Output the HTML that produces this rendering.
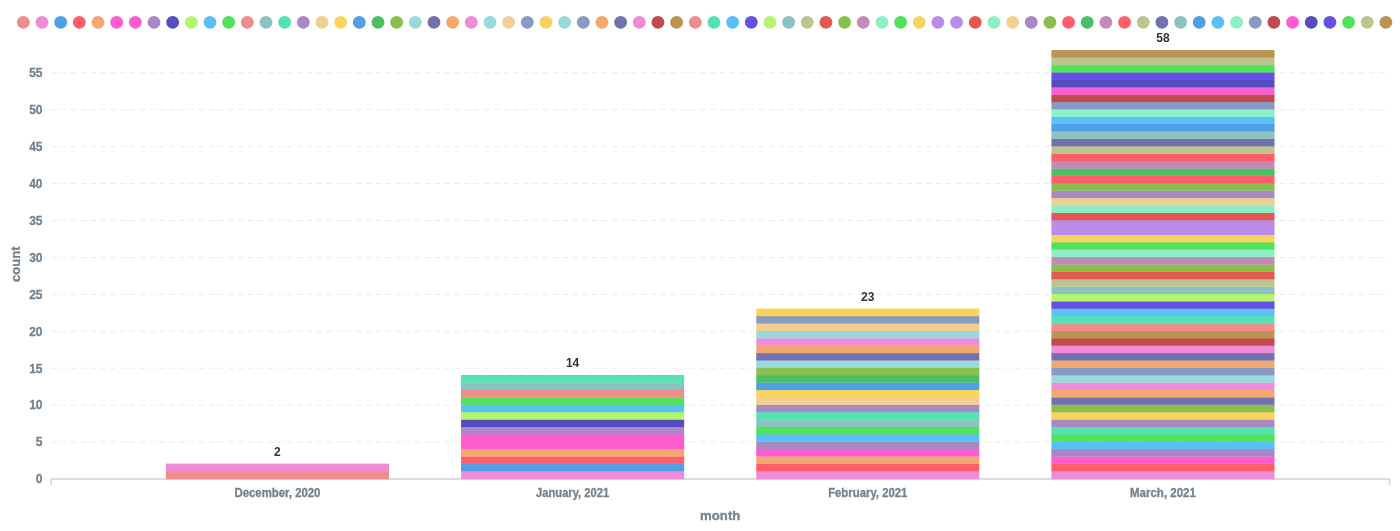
<!DOCTYPE html><html><head><meta charset="utf-8"><style>html,body{margin:0;padding:0;background:#fff;overflow:hidden}svg{display:block;will-change:transform}text{font-family:"Liberation Sans",sans-serif;font-weight:bold}.ax{stroke:#74838F;stroke-width:0.3}</style></head><body>
<svg width="1400" height="531" viewBox="0 0 1400 531">
<circle cx="23.35" cy="22.3" r="6.4" fill="#EF8C8C"/>
<circle cx="42.02" cy="22.3" r="6.4" fill="#EF8CDA"/>
<circle cx="60.68" cy="22.3" r="6.4" fill="#509EE3"/>
<circle cx="79.34" cy="22.3" r="6.4" fill="#FF5F6B"/>
<circle cx="98.01" cy="22.3" r="6.4" fill="#F2A86F"/>
<circle cx="116.67" cy="22.3" r="6.4" fill="#FF5CD0"/>
<circle cx="135.34" cy="22.3" r="6.4" fill="#FF5CD0"/>
<circle cx="154.00" cy="22.3" r="6.4" fill="#A989C5"/>
<circle cx="172.67" cy="22.3" r="6.4" fill="#554DBF"/>
<circle cx="191.33" cy="22.3" r="6.4" fill="#B5F56B"/>
<circle cx="210.00" cy="22.3" r="6.4" fill="#5BC0F7"/>
<circle cx="228.66" cy="22.3" r="6.4" fill="#50E35A"/>
<circle cx="247.33" cy="22.3" r="6.4" fill="#EF8C8C"/>
<circle cx="266.00" cy="22.3" r="6.4" fill="#8CC2C2"/>
<circle cx="284.66" cy="22.3" r="6.4" fill="#52E3B0"/>
<circle cx="303.32" cy="22.3" r="6.4" fill="#A989C5"/>
<circle cx="321.99" cy="22.3" r="6.4" fill="#F0CF93"/>
<circle cx="340.66" cy="22.3" r="6.4" fill="#F9D45C"/>
<circle cx="359.32" cy="22.3" r="6.4" fill="#509EE3"/>
<circle cx="377.99" cy="22.3" r="6.4" fill="#4BBF66"/>
<circle cx="396.65" cy="22.3" r="6.4" fill="#88BF4D"/>
<circle cx="415.31" cy="22.3" r="6.4" fill="#98D9D9"/>
<circle cx="433.98" cy="22.3" r="6.4" fill="#7172AD"/>
<circle cx="452.64" cy="22.3" r="6.4" fill="#F2A86F"/>
<circle cx="471.31" cy="22.3" r="6.4" fill="#EF8CDA"/>
<circle cx="489.98" cy="22.3" r="6.4" fill="#98D9D9"/>
<circle cx="508.64" cy="22.3" r="6.4" fill="#F0CF93"/>
<circle cx="527.30" cy="22.3" r="6.4" fill="#889AC2"/>
<circle cx="545.97" cy="22.3" r="6.4" fill="#F9D45C"/>
<circle cx="564.63" cy="22.3" r="6.4" fill="#98D9D9"/>
<circle cx="583.30" cy="22.3" r="6.4" fill="#889AC2"/>
<circle cx="601.97" cy="22.3" r="6.4" fill="#F2A86F"/>
<circle cx="620.63" cy="22.3" r="6.4" fill="#7172AD"/>
<circle cx="639.29" cy="22.3" r="6.4" fill="#EF8CDA"/>
<circle cx="657.96" cy="22.3" r="6.4" fill="#BF4B4E"/>
<circle cx="676.62" cy="22.3" r="6.4" fill="#BC9452"/>
<circle cx="695.29" cy="22.3" r="6.4" fill="#EF8C8C"/>
<circle cx="713.96" cy="22.3" r="6.4" fill="#52E3B0"/>
<circle cx="732.62" cy="22.3" r="6.4" fill="#5BC0F7"/>
<circle cx="751.28" cy="22.3" r="6.4" fill="#6450E3"/>
<circle cx="769.95" cy="22.3" r="6.4" fill="#B5F56B"/>
<circle cx="788.62" cy="22.3" r="6.4" fill="#8CC2C2"/>
<circle cx="807.28" cy="22.3" r="6.4" fill="#BEC58C"/>
<circle cx="825.94" cy="22.3" r="6.4" fill="#E35850"/>
<circle cx="844.61" cy="22.3" r="6.4" fill="#88BF4D"/>
<circle cx="863.27" cy="22.3" r="6.4" fill="#C589B9"/>
<circle cx="881.94" cy="22.3" r="6.4" fill="#8CEFC6"/>
<circle cx="900.61" cy="22.3" r="6.4" fill="#50E35A"/>
<circle cx="919.27" cy="22.3" r="6.4" fill="#F9D45C"/>
<circle cx="937.93" cy="22.3" r="6.4" fill="#BA8CE8"/>
<circle cx="956.60" cy="22.3" r="6.4" fill="#BA8CE8"/>
<circle cx="975.26" cy="22.3" r="6.4" fill="#E35850"/>
<circle cx="993.93" cy="22.3" r="6.4" fill="#8CEFC6"/>
<circle cx="1012.60" cy="22.3" r="6.4" fill="#F0CF93"/>
<circle cx="1031.26" cy="22.3" r="6.4" fill="#A989C5"/>
<circle cx="1049.92" cy="22.3" r="6.4" fill="#88BF4D"/>
<circle cx="1068.59" cy="22.3" r="6.4" fill="#FF5F6B"/>
<circle cx="1087.25" cy="22.3" r="6.4" fill="#4BBF66"/>
<circle cx="1105.92" cy="22.3" r="6.4" fill="#C589B9"/>
<circle cx="1124.58" cy="22.3" r="6.4" fill="#FF5F6B"/>
<circle cx="1143.25" cy="22.3" r="6.4" fill="#BEC58C"/>
<circle cx="1161.91" cy="22.3" r="6.4" fill="#7172AD"/>
<circle cx="1180.58" cy="22.3" r="6.4" fill="#8CC2C2"/>
<circle cx="1199.24" cy="22.3" r="6.4" fill="#509EE3"/>
<circle cx="1217.91" cy="22.3" r="6.4" fill="#5BC0F7"/>
<circle cx="1236.57" cy="22.3" r="6.4" fill="#8CEFC6"/>
<circle cx="1255.24" cy="22.3" r="6.4" fill="#889AC2"/>
<circle cx="1273.90" cy="22.3" r="6.4" fill="#BF4B4E"/>
<circle cx="1292.57" cy="22.3" r="6.4" fill="#FF5CD0"/>
<circle cx="1311.23" cy="22.3" r="6.4" fill="#554DBF"/>
<circle cx="1329.90" cy="22.3" r="6.4" fill="#6450E3"/>
<circle cx="1348.56" cy="22.3" r="6.4" fill="#50E35A"/>
<circle cx="1367.23" cy="22.3" r="6.4" fill="#BEC58C"/>
<circle cx="1385.89" cy="22.3" r="6.4" fill="#BC9452"/>
<line x1="51.4" x2="1389.5" y1="442.07" y2="442.07" stroke="#EAECEE" stroke-width="1" stroke-dasharray="5.3 4.53"/>
<line x1="51.4" x2="1389.5" y1="405.15" y2="405.15" stroke="#EAECEE" stroke-width="1" stroke-dasharray="5.3 4.53"/>
<line x1="51.4" x2="1389.5" y1="368.23" y2="368.23" stroke="#EAECEE" stroke-width="1" stroke-dasharray="5.3 4.53"/>
<line x1="51.4" x2="1389.5" y1="331.30" y2="331.30" stroke="#EAECEE" stroke-width="1" stroke-dasharray="5.3 4.53"/>
<line x1="51.4" x2="1389.5" y1="294.38" y2="294.38" stroke="#EAECEE" stroke-width="1" stroke-dasharray="5.3 4.53"/>
<line x1="51.4" x2="1389.5" y1="257.45" y2="257.45" stroke="#EAECEE" stroke-width="1" stroke-dasharray="5.3 4.53"/>
<line x1="51.4" x2="1389.5" y1="220.53" y2="220.53" stroke="#EAECEE" stroke-width="1" stroke-dasharray="5.3 4.53"/>
<line x1="51.4" x2="1389.5" y1="183.60" y2="183.60" stroke="#EAECEE" stroke-width="1" stroke-dasharray="5.3 4.53"/>
<line x1="51.4" x2="1389.5" y1="146.68" y2="146.68" stroke="#EAECEE" stroke-width="1" stroke-dasharray="5.3 4.53"/>
<line x1="51.4" x2="1389.5" y1="109.75" y2="109.75" stroke="#EAECEE" stroke-width="1" stroke-dasharray="5.3 4.53"/>
<line x1="51.4" x2="1389.5" y1="72.82" y2="72.82" stroke="#EAECEE" stroke-width="1" stroke-dasharray="5.3 4.53"/>
<text x="42.5" y="483.30" class="ax" text-anchor="end" font-size="12" fill="#74838F">0</text>
<text x="42.5" y="446.38" class="ax" text-anchor="end" font-size="12" fill="#74838F">5</text>
<text x="42.5" y="409.45" class="ax" text-anchor="end" font-size="12" fill="#74838F">10</text>
<text x="42.5" y="372.53" class="ax" text-anchor="end" font-size="12" fill="#74838F">15</text>
<text x="42.5" y="335.60" class="ax" text-anchor="end" font-size="12" fill="#74838F">20</text>
<text x="42.5" y="298.68" class="ax" text-anchor="end" font-size="12" fill="#74838F">25</text>
<text x="42.5" y="261.75" class="ax" text-anchor="end" font-size="12" fill="#74838F">30</text>
<text x="42.5" y="224.83" class="ax" text-anchor="end" font-size="12" fill="#74838F">35</text>
<text x="42.5" y="187.90" class="ax" text-anchor="end" font-size="12" fill="#74838F">40</text>
<text x="42.5" y="150.98" class="ax" text-anchor="end" font-size="12" fill="#74838F">45</text>
<text x="42.5" y="114.05" class="ax" text-anchor="end" font-size="12" fill="#74838F">50</text>
<text x="42.5" y="77.12" class="ax" text-anchor="end" font-size="12" fill="#74838F">55</text>
<path d="M51.0 485 V479 H1389.5 V485" fill="none" stroke="#CDD3D8" stroke-width="1.5"/>
<rect x="165.90" y="471.01" width="223.10" height="8.29" fill="#EF8C8C"/>
<rect x="165.90" y="463.63" width="223.10" height="7.68" fill="#EF8CDA"/>
<rect x="461.07" y="471.01" width="223.10" height="8.29" fill="#EF8CDA"/>
<rect x="461.07" y="463.63" width="223.10" height="7.68" fill="#509EE3"/>
<rect x="461.07" y="456.25" width="223.10" height="7.68" fill="#FF5F6B"/>
<rect x="461.07" y="448.86" width="223.10" height="7.69" fill="#F2A86F"/>
<rect x="461.07" y="434.09" width="223.10" height="15.07" fill="#FF5CD0"/>
<rect x="461.07" y="426.70" width="223.10" height="7.68" fill="#A989C5"/>
<rect x="461.07" y="419.32" width="223.10" height="7.68" fill="#554DBF"/>
<rect x="461.07" y="411.93" width="223.10" height="7.69" fill="#B5F56B"/>
<rect x="461.07" y="404.55" width="223.10" height="7.68" fill="#5BC0F7"/>
<rect x="461.07" y="397.16" width="223.10" height="7.68" fill="#50E35A"/>
<rect x="461.07" y="389.78" width="223.10" height="7.68" fill="#EF8C8C"/>
<rect x="461.07" y="382.39" width="223.10" height="7.68" fill="#8CC2C2"/>
<rect x="461.07" y="375.01" width="223.10" height="7.68" fill="#52E3B0"/>
<rect x="756.24" y="471.01" width="223.10" height="8.29" fill="#EF8CDA"/>
<rect x="756.24" y="463.63" width="223.10" height="7.68" fill="#FF5F6B"/>
<rect x="756.24" y="456.25" width="223.10" height="7.68" fill="#F2A86F"/>
<rect x="756.24" y="448.86" width="223.10" height="7.69" fill="#FF5CD0"/>
<rect x="756.24" y="441.47" width="223.10" height="7.68" fill="#A989C5"/>
<rect x="756.24" y="434.09" width="223.10" height="7.68" fill="#5BC0F7"/>
<rect x="756.24" y="426.70" width="223.10" height="7.68" fill="#50E35A"/>
<rect x="756.24" y="419.32" width="223.10" height="7.68" fill="#8CC2C2"/>
<rect x="756.24" y="411.93" width="223.10" height="7.69" fill="#52E3B0"/>
<rect x="756.24" y="404.55" width="223.10" height="7.68" fill="#A989C5"/>
<rect x="756.24" y="397.16" width="223.10" height="7.68" fill="#F0CF93"/>
<rect x="756.24" y="389.78" width="223.10" height="7.68" fill="#F9D45C"/>
<rect x="756.24" y="382.39" width="223.10" height="7.68" fill="#509EE3"/>
<rect x="756.24" y="375.01" width="223.10" height="7.68" fill="#4BBF66"/>
<rect x="756.24" y="367.62" width="223.10" height="7.68" fill="#88BF4D"/>
<rect x="756.24" y="360.24" width="223.10" height="7.68" fill="#98D9D9"/>
<rect x="756.24" y="352.85" width="223.10" height="7.69" fill="#7172AD"/>
<rect x="756.24" y="345.47" width="223.10" height="7.68" fill="#F2A86F"/>
<rect x="756.24" y="338.08" width="223.10" height="7.68" fill="#EF8CDA"/>
<rect x="756.24" y="330.70" width="223.10" height="7.68" fill="#98D9D9"/>
<rect x="756.24" y="323.31" width="223.10" height="7.69" fill="#F0CF93"/>
<rect x="756.24" y="315.93" width="223.10" height="7.68" fill="#889AC2"/>
<rect x="756.24" y="308.54" width="223.10" height="7.68" fill="#F9D45C"/>
<rect x="1051.41" y="471.01" width="223.10" height="8.29" fill="#EF8CDA"/>
<rect x="1051.41" y="463.63" width="223.10" height="7.68" fill="#FF5F6B"/>
<rect x="1051.41" y="456.25" width="223.10" height="7.68" fill="#FF5CD0"/>
<rect x="1051.41" y="448.86" width="223.10" height="7.69" fill="#A989C5"/>
<rect x="1051.41" y="441.47" width="223.10" height="7.68" fill="#5BC0F7"/>
<rect x="1051.41" y="434.09" width="223.10" height="7.68" fill="#50E35A"/>
<rect x="1051.41" y="426.70" width="223.10" height="7.68" fill="#52E3B0"/>
<rect x="1051.41" y="419.32" width="223.10" height="7.68" fill="#A989C5"/>
<rect x="1051.41" y="411.93" width="223.10" height="7.69" fill="#F9D45C"/>
<rect x="1051.41" y="404.55" width="223.10" height="7.68" fill="#88BF4D"/>
<rect x="1051.41" y="397.16" width="223.10" height="7.68" fill="#7172AD"/>
<rect x="1051.41" y="389.78" width="223.10" height="7.68" fill="#F2A86F"/>
<rect x="1051.41" y="382.39" width="223.10" height="7.68" fill="#EF8CDA"/>
<rect x="1051.41" y="375.01" width="223.10" height="7.68" fill="#98D9D9"/>
<rect x="1051.41" y="367.62" width="223.10" height="7.68" fill="#889AC2"/>
<rect x="1051.41" y="360.24" width="223.10" height="7.68" fill="#F2A86F"/>
<rect x="1051.41" y="352.85" width="223.10" height="7.69" fill="#7172AD"/>
<rect x="1051.41" y="345.47" width="223.10" height="7.68" fill="#EF8CDA"/>
<rect x="1051.41" y="338.08" width="223.10" height="7.68" fill="#BF4B4E"/>
<rect x="1051.41" y="330.70" width="223.10" height="7.68" fill="#BC9452"/>
<rect x="1051.41" y="323.31" width="223.10" height="7.69" fill="#EF8C8C"/>
<rect x="1051.41" y="315.93" width="223.10" height="7.68" fill="#52E3B0"/>
<rect x="1051.41" y="308.54" width="223.10" height="7.68" fill="#5BC0F7"/>
<rect x="1051.41" y="301.16" width="223.10" height="7.68" fill="#6450E3"/>
<rect x="1051.41" y="293.77" width="223.10" height="7.68" fill="#B5F56B"/>
<rect x="1051.41" y="286.39" width="223.10" height="7.68" fill="#8CC2C2"/>
<rect x="1051.41" y="279.00" width="223.10" height="7.68" fill="#BEC58C"/>
<rect x="1051.41" y="271.62" width="223.10" height="7.68" fill="#E35850"/>
<rect x="1051.41" y="264.24" width="223.10" height="7.68" fill="#88BF4D"/>
<rect x="1051.41" y="256.85" width="223.10" height="7.68" fill="#C589B9"/>
<rect x="1051.41" y="249.46" width="223.10" height="7.69" fill="#8CEFC6"/>
<rect x="1051.41" y="242.08" width="223.10" height="7.68" fill="#50E35A"/>
<rect x="1051.41" y="234.69" width="223.10" height="7.68" fill="#F9D45C"/>
<rect x="1051.41" y="219.93" width="223.10" height="15.07" fill="#BA8CE8"/>
<rect x="1051.41" y="212.54" width="223.10" height="7.69" fill="#E35850"/>
<rect x="1051.41" y="205.15" width="223.10" height="7.68" fill="#8CEFC6"/>
<rect x="1051.41" y="197.77" width="223.10" height="7.68" fill="#F0CF93"/>
<rect x="1051.41" y="190.38" width="223.10" height="7.68" fill="#A989C5"/>
<rect x="1051.41" y="183.00" width="223.10" height="7.68" fill="#88BF4D"/>
<rect x="1051.41" y="175.62" width="223.10" height="7.68" fill="#FF5F6B"/>
<rect x="1051.41" y="168.23" width="223.10" height="7.69" fill="#4BBF66"/>
<rect x="1051.41" y="160.84" width="223.10" height="7.68" fill="#C589B9"/>
<rect x="1051.41" y="153.46" width="223.10" height="7.68" fill="#FF5F6B"/>
<rect x="1051.41" y="146.07" width="223.10" height="7.68" fill="#BEC58C"/>
<rect x="1051.41" y="138.69" width="223.10" height="7.68" fill="#7172AD"/>
<rect x="1051.41" y="131.31" width="223.10" height="7.68" fill="#8CC2C2"/>
<rect x="1051.41" y="123.92" width="223.10" height="7.69" fill="#509EE3"/>
<rect x="1051.41" y="116.53" width="223.10" height="7.68" fill="#5BC0F7"/>
<rect x="1051.41" y="109.15" width="223.10" height="7.68" fill="#8CEFC6"/>
<rect x="1051.41" y="101.76" width="223.10" height="7.68" fill="#889AC2"/>
<rect x="1051.41" y="94.38" width="223.10" height="7.68" fill="#BF4B4E"/>
<rect x="1051.41" y="87.00" width="223.10" height="7.68" fill="#FF5CD0"/>
<rect x="1051.41" y="79.61" width="223.10" height="7.68" fill="#554DBF"/>
<rect x="1051.41" y="72.22" width="223.10" height="7.69" fill="#6450E3"/>
<rect x="1051.41" y="64.84" width="223.10" height="7.68" fill="#50E35A"/>
<rect x="1051.41" y="57.45" width="223.10" height="7.68" fill="#BEC58C"/>
<rect x="1051.41" y="50.07" width="223.10" height="7.68" fill="#BC9452"/>
<text x="277.45" y="455.93" text-anchor="middle" font-size="12" fill="#2E353B" stroke="#fff" stroke-width="3" paint-order="stroke">2</text>
<text x="572.62" y="367.31" text-anchor="middle" font-size="12" fill="#2E353B" stroke="#fff" stroke-width="3" paint-order="stroke">14</text>
<text x="867.79" y="300.84" text-anchor="middle" font-size="12" fill="#2E353B" stroke="#fff" stroke-width="3" paint-order="stroke">23</text>
<text x="1162.96" y="42.37" text-anchor="middle" font-size="12" fill="#2E353B" stroke="#fff" stroke-width="3" paint-order="stroke">58</text>
<text x="277.45" y="496.7" class="ax" text-anchor="middle" font-size="12" fill="#74838F" textLength="86.0" lengthAdjust="spacingAndGlyphs">December, 2020</text>
<text x="572.62" y="496.7" class="ax" text-anchor="middle" font-size="12" fill="#74838F" textLength="73.0" lengthAdjust="spacingAndGlyphs">January, 2021</text>
<text x="867.79" y="496.7" class="ax" text-anchor="middle" font-size="12" fill="#74838F" textLength="79.3" lengthAdjust="spacingAndGlyphs">February, 2021</text>
<text x="1162.96" y="496.7" class="ax" text-anchor="middle" font-size="12" fill="#74838F" textLength="65.8" lengthAdjust="spacingAndGlyphs">March, 2021</text>
<text x="720.2" y="519.9" class="ax" text-anchor="middle" font-size="13.5" fill="#74838F" textLength="40.3" lengthAdjust="spacingAndGlyphs">month</text>
<text transform="translate(20.4 264.3) rotate(-90)" class="ax" text-anchor="middle" font-size="13.5" fill="#74838F" textLength="35.6" lengthAdjust="spacingAndGlyphs">count</text>
</svg></body></html>
